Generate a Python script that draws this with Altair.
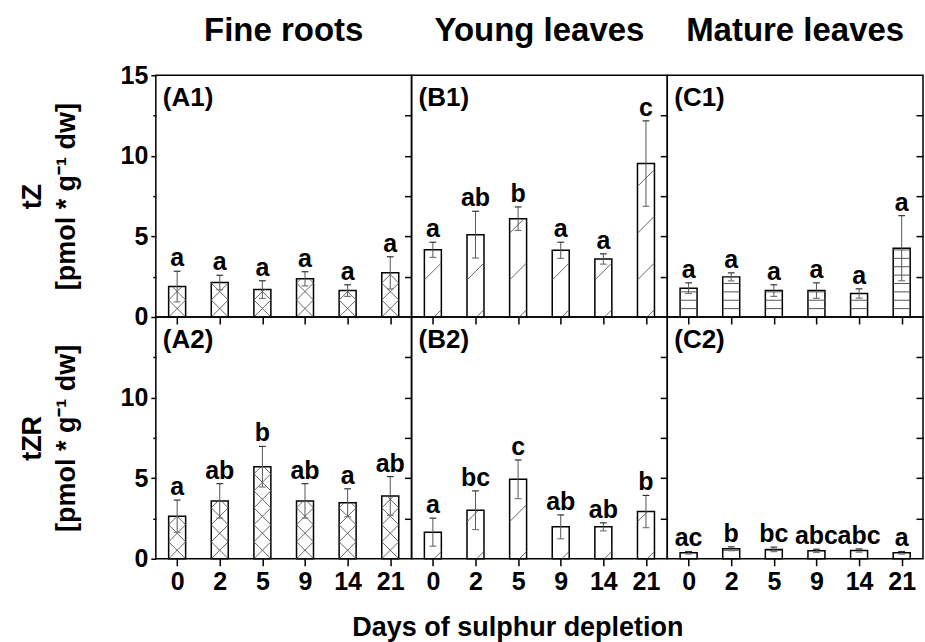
import altair as alt
import pandas as pd

# ---------------- data ----------------
days = ["0", "2", "5", "9", "14", "21"]
tissues = ["Fine roots", "Young leaves", "Mature leaves"]
panel_ids = [["(A1)", "(B1)", "(C1)"], ["(A2)", "(B2)", "(C2)"]]
row_titles = [["tZ", "[pmol * g\u207b\u00b9 dw]"], ["tZR", "[pmol * g\u207b\u00b9 dw]"]]
x_title = "Days of sulphur depletion"

tz_fine_mean = [1.89, 2.14, 1.70, 2.37, 1.64, 2.74]
tz_fine_err = [0.95, 0.45, 0.55, 0.44, 0.36, 1.00]
tz_fine_letters = ["a", "a", "a", "a", "a", "a"]

tz_young_mean = [4.17, 5.11, 6.10, 4.14, 3.60, 9.52]
tz_young_err = [0.47, 1.45, 0.73, 0.50, 0.32, 2.65]
tz_young_letters = ["a", "ab", "b", "a", "a", "c"]

tz_mature_mean = [1.79, 2.49, 1.64, 1.64, 1.46, 4.27]
tz_mature_err = [0.33, 0.25, 0.36, 0.48, 0.29, 2.02]
tz_mature_letters = ["a", "a", "a", "a", "a", "a"]

tzr_fine_mean = [2.64, 3.59, 5.71, 3.59, 3.47, 3.90]
tzr_fine_err = [1.00, 1.07, 1.26, 1.07, 0.87, 1.20]
tzr_fine_letters = ["a", "ab", "b", "ab", "a", "ab"]

tzr_young_mean = [1.65, 3.01, 4.93, 1.98, 1.98, 2.93]
tzr_young_err = [0.87, 1.20, 1.20, 0.74, 0.25, 1.00]
tzr_young_letters = ["a", "bc", "c", "ab", "ab", "b"]

tzr_mature_mean = [0.37, 0.62, 0.58, 0.49, 0.51, 0.37]
tzr_mature_err = [0.08, 0.12, 0.14, 0.10, 0.10, 0.08]
tzr_mature_letters = ["ac", "b", "bc", "abc", "abc", "a"]

panels_data = [
    [(tz_fine_mean, tz_fine_err, tz_fine_letters),
     (tz_young_mean, tz_young_err, tz_young_letters),
     (tz_mature_mean, tz_mature_err, tz_mature_letters)],
    [(tzr_fine_mean, tzr_fine_err, tzr_fine_letters),
     (tzr_young_mean, tzr_young_err, tzr_young_letters),
     (tzr_mature_mean, tzr_mature_err, tzr_mature_letters)],
]
patterns = ["cross", "diag", "horiz"]

# ---------------- style ----------------
FONT = "Liberation Sans"
PW, PH = 256, 242
N = len(days)
XU = PW / N          # px per x unit
YU = PH / 15.0       # px per y unit
HW = 8.5 / XU        # bar half width (x units)
BW = 2 * HW
R = (BW * XU) / YU   # 45 degree rise across a bar, in y units
CAP = 3.4 / XU

tick_vals = [i + 0.5 for i in range(N)]
label_expr = "[" + ",".join("'%s'" % d for d in days) + "][round(datum.value - 0.5)]"

xs = alt.Scale(domain=[0, N], nice=False, zero=False)
ys = alt.Scale(domain=[0, 15], nice=False, zero=False)


def hatch(base, pattern):
    layers = []
    if pattern == "horiz":
        h = (base.transform_calculate(bs="sequence(0.52, datum.mean, 0.52)")
             .transform_flatten(["bs"], as_=["b"])
             .mark_rule(color="#555", strokeWidth=1)
             .encode(x=alt.X("xl:Q", scale=xs, axis=None), x2="xr:Q",
                     y=alt.Y("b:Q", scale=ys, axis=None)))
        return [h]
    if pattern == "cross":
        fams = [(1, 0.0, R), (-1, 0.0, R)]
    else:
        fams = [(1, -0.6, 2.9)]
    for d, start, step in fams:
        if d == 1:
            t0 = "max(0, -datum.b / %f)" % R
            t1 = "min(1, (datum.mean - datum.b) / %f)" % R
            y1 = "datum.b + %f * datum.t0" % R
            y2 = "datum.b + %f * datum.t1" % R
        else:
            t0 = "max(0, 1 - (datum.mean - datum.b) / %f)" % R
            t1 = "min(1, 1 + datum.b / %f)" % R
            y1 = "datum.b + %f * (1 - datum.t0)" % R
            y2 = "datum.b + %f * (1 - datum.t1)" % R
        lay = (base.transform_calculate(bs="sequence(%f, datum.mean, %f)" % (start, step))
               .transform_flatten(["bs"], as_=["b"])
               .transform_calculate(t0=t0, t1=t1)
               .transform_filter("datum.t1 > datum.t0 + 0.01")
               .transform_calculate(hx1="datum.xl + %f * datum.t0" % BW,
                                    hx2="datum.xl + %f * datum.t1" % BW,
                                    hy1=y1, hy2=y2)
               .mark_rule(color="#555", strokeWidth=0.9)
               .encode(x=alt.X("hx1:Q", scale=xs, axis=None), x2="hx2:Q",
                       y=alt.Y("hy1:Q", scale=ys, axis=None), y2="hy2:Q"))
        layers.append(lay)
    return layers


def panel(row, col):
    mean, err, letters = panels_data[row][col]
    df = pd.DataFrame({"i": list(range(N)), "mean": mean, "err": err, "letter": letters})
    base = alt.Chart(df).transform_calculate(
        xc="datum.i + 0.5",
        xl="datum.i + 0.5 - %f" % HW,
        xr="datum.i + 0.5 + %f" % HW,
        cl="datum.i + 0.5 - %f" % CAP,
        cr="datum.i + 0.5 + %f" % CAP,
        lo="datum.mean - datum.err",
        hi="datum.mean + datum.err",
        z="0",
    )

    # axes
    if row == 1:
        xax = alt.Axis(orient="bottom", values=tick_vals, labelExpr=label_expr,
                       tickSize=7, labelPadding=4, labelAngle=0,
                       title=x_title if col == 1 else None,
                       titleFont=FONT, titleFontSize=27, titleFontWeight="bold",
                       titleColor="black", titleX=106, titleY=77,
                       titleBaseline="alphabetic")
        xtop = alt.Axis(orient="top", values=tick_vals, labels=False, tickSize=7,
                        offset=-7, title=None)
    else:
        xax = None
        xtop = None
    if col == 0:
        vals = [0, 2.5, 5, 7.5, 10, 12.5, 15] if row == 0 else [0, 2.5, 5, 7.5, 10, 12.5]
        yax = alt.Axis(orient="left", values=vals,
                       labelExpr="datum.value % 5 == 0 ? datum.label : ''",
                       tickSize={"condition": {"test": "datum.value % 5 != 0", "value": 3},
                                 "value": 5},
                       labelPadding=3, title=row_titles[row],
                       titleFont=FONT, titleFontSize=27, titleFontWeight="bold",
                       titleColor="black", titleLineHeight=34, titlePadding=40)
    else:
        yax = None
    yright = alt.Axis(orient="right", values=[2.5, 5, 7.5, 10, 12.5], labels=False,
                      tickSize=7, offset=-7, title=None)

    bars = base.mark_rect(fill="white", stroke="black", strokeWidth=1.5).encode(
        x=alt.X("xl:Q", scale=xs, axis=xax), x2="xr:Q",
        y=alt.Y("mean:Q", scale=ys, axis=yax), y2="z:Q")

    whisk = base.mark_rule(color="#555", strokeWidth=1).encode(
        x=alt.X("xc:Q", scale=xs, axis=xtop),
        y=alt.Y("lo:Q", scale=ys, axis=yright), y2="hi:Q")
    cap_hi = base.mark_rule(color="#333", strokeWidth=1.2).encode(
        x=alt.X("cl:Q", scale=xs, axis=None), x2="cr:Q",
        y=alt.Y("hi:Q", scale=ys, axis=None))
    cap_lo = base.mark_rule(color="#777", strokeWidth=1.2).encode(
        x=alt.X("cl:Q", scale=xs, axis=None), x2="cr:Q",
        y=alt.Y("lo:Q", scale=ys, axis=None))
    text = base.mark_text(font=FONT, fontSize=25, fontWeight="bold", color="black",
                          baseline="alphabetic", dy=-5).encode(
        x=alt.X("xc:Q", scale=xs, axis=None),
        y=alt.Y("hi:Q", scale=ys, axis=None),
        text="letter:N")
    plabel = alt.Chart(alt.Data(values=[{"t": panel_ids[row][col]}])).mark_text(
        font=FONT, fontSize=26, fontWeight="bold", color="black",
        align="left", baseline="alphabetic").encode(
        x=alt.value(7), y=alt.value(31), text="t:N")

    layers = [bars] + hatch(base, patterns[col]) + [whisk, cap_hi, cap_lo, text, plabel]
    if row == 0:
        ctitle = alt.Chart(alt.Data(values=[{"t": tissues[col]}])).mark_text(
            font=FONT, fontSize=33, fontWeight="bold", color="black",
            align="center", baseline="alphabetic").encode(
            x=alt.value(PW / 2), y=alt.value(-34), text="t:N")
        layers.append(ctitle)
    ch = alt.layer(*layers).resolve_axis(x="independent", y="independent")
    return ch.properties(width=PW, height=PH)


panels = [panel(r, c) for r in range(2) for c in range(3)]

chart = alt.concat(*panels, columns=3, spacing=0, bounds="flush").properties(
    padding={"left": 17, "top": 14, "right": 0, "bottom": 0},
    background="white",
).configure_view(stroke="black", strokeWidth=1.5).configure_axis(
    domain=False, grid=False, labelFont=FONT, labelFontSize=25,
    labelFontWeight="bold", labelColor="black", tickColor="black",
    tickWidth=1.5,
)

chart.save("out.html", embed_options={"renderer": "svg", "actions": False})
